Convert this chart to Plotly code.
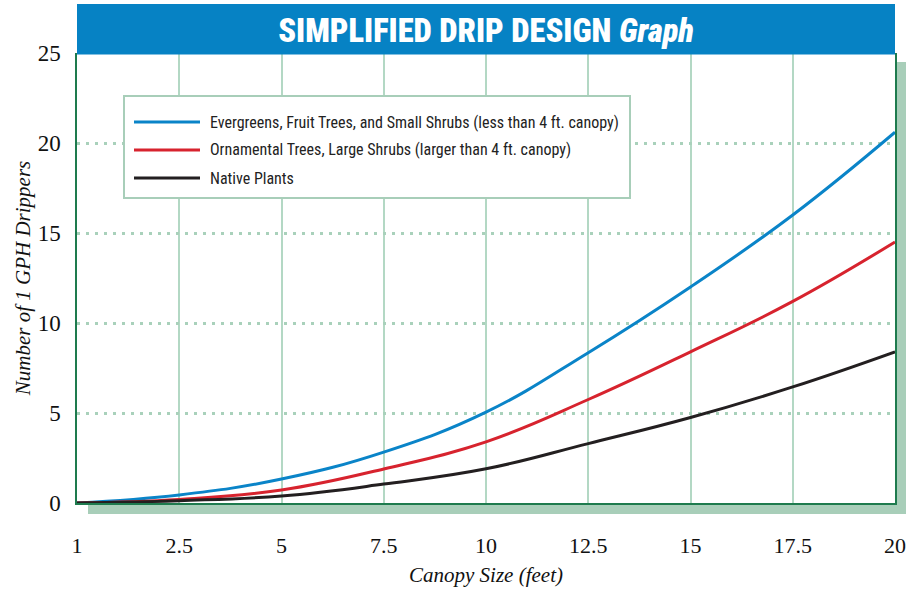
import plotly.graph_objects as go

# ---- data ----
canopy = [0, 2.5, 5, 7.5, 10, 12.5, 15, 17.5, 20]
tick_vals = [0, 2.5, 5, 7.5, 10, 12.5, 15, 17.5, 20]
tick_text = ["1", "2.5", "5", "7.5", "10", "12.5", "15", "17.5", "20"]
y_ticks = [0, 5, 10, 15, 20, 25]

series_names = [
    "Evergreens, Fruit Trees, and Small Shrubs (less than 4 ft. canopy)",
    "Ornamental Trees, Large Shrubs (larger than 4 ft. canopy)",
    "Native Plants",
]
evergreens = [0, 0.45, 1.33, 2.83, 5.05, 8.35, 12.0, 16.0, 20.6]
ornamental = [0, 0.20, 0.72, 1.89, 3.40, 5.75, 8.4, 11.2, 14.5]
native = [0, 0.13, 0.39, 1.05, 1.90, 3.30, 4.75, 6.45, 8.4]
series_values = [evergreens, ornamental, native]
series_colors = ["#0A84C8", "#D7232E", "#231F20"]

# ---- layout geometry (pixels) ----
W, H = 906, 594
L, R, T, B = 77, 895, 53, 503
pw, ph = R - L, B - T


def px(x):
    return (x - L) / pw


def py(y):
    return (B - y) / ph


SERIF = "Liberation Serif, Times New Roman, serif"
NARROW = "Roboto Condensed, Liberation Sans Narrow, Roboto, sans-serif"
GREEN_LINE = "#1E7B4E"
GRID = "#B3D8C4"
SHADOW = "#A8CEB9"

fig = go.Figure()
for name, vals, col in zip(series_names, series_values, series_colors):
    fig.add_trace(go.Scatter(
        x=canopy, y=vals, name=name, mode="lines",
        line=dict(color=col, width=3, shape="spline", smoothing=1.2),
        showlegend=False,
    ))

shapes = []
# drop shadow
shapes.append(dict(type="rect", xref="paper", yref="paper",
                   x0=px(R), x1=px(W), y0=py(514), y1=py(62),
                   fillcolor=SHADOW, line=dict(width=0), layer="below"))
shapes.append(dict(type="rect", xref="paper", yref="paper",
                   x0=px(88), x1=px(W), y0=py(514), y1=0,
                   fillcolor=SHADOW, line=dict(width=0), layer="below"))
# title bar
shapes.append(dict(type="rect", xref="paper", yref="paper",
                   x0=0, x1=1, y0=py(T + 1.5), y1=py(4),
                   fillcolor="#0682C4", line=dict(width=0)))
# legend box
shapes.append(dict(type="rect", xref="paper", yref="paper",
                   x0=px(124), x1=px(630), y0=py(198), y1=py(96),
                   fillcolor="white", line=dict(color=SHADOW, width=2)))
annotations = []
row_y = [122, 150, 178]
for name, col, yy in zip(series_names, series_colors, row_y):
    shapes.append(dict(type="line", xref="paper", yref="paper",
                       x0=px(134), x1=px(200), y0=py(yy), y1=py(yy),
                       line=dict(color=col, width=3)))
    annotations.append(dict(xref="paper", yref="paper", x=px(208), y=py(yy),
                            xanchor="left", yanchor="middle", showarrow=False,
                            text=name, font=dict(family=NARROW, size=16, color="#222222")))

fig.update_layout(
    width=W, height=H,
    margin=dict(l=L, r=W - R, t=T, b=H - B, autoexpand=False),
    paper_bgcolor="white", plot_bgcolor="white",
    title=dict(
        text="SIMPLIFIED DRIP DESIGN <i>Graph</i>",
        font=dict(family=NARROW, size=32.5, color="white", weight=900),
        xref="paper", x=0.5, xanchor="center",
        yref="container", y=1 - 30.5 / H, yanchor="middle",
    ),
    shapes=shapes,
    annotations=annotations,
    xaxis=dict(
        range=[0, 20], tickvals=tick_vals, ticktext=tick_text,
        showgrid=True, gridcolor=GRID, gridwidth=2,
        showline=True, linecolor=GREEN_LINE, linewidth=1.5,
        ticks="", ticklabelstandoff=22,
        tickfont=dict(family=SERIF, size=22, color="#111111"),
        zeroline=False,
        title=dict(text="<i>Canopy Size (feet)</i>", standoff=10,
                   font=dict(family=SERIF, size=21, color="#111111")),
    ),
    yaxis=dict(
        range=[0, 25], tickvals=y_ticks,
        showgrid=True, gridcolor="#A9D1BB", gridwidth=3, griddash="3px,6px",
        showline=True, mirror=True, linecolor=GREEN_LINE, linewidth=1.5,
        ticks="", ticklabelstandoff=10,
        tickfont=dict(family=SERIF, size=23, color="#111111"),
        zeroline=False,
        title=dict(text="<i>Number of 1 GPH Drippers</i>", standoff=1,
                   font=dict(family=SERIF, size=21, color="#111111")),
    ),
)

fig.write_html("out.html",
               config={"displayModeBar": False},
               post_script="document.body.style.margin='0';document.body.style.overflow='hidden';")
